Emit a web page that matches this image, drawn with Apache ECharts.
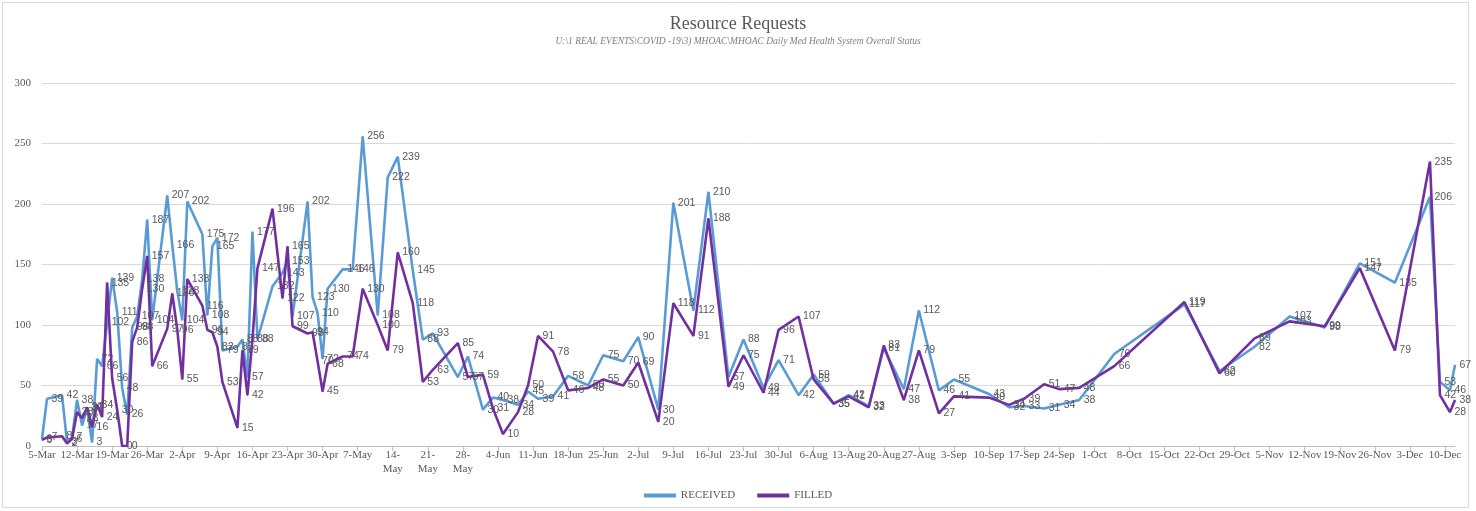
<!DOCTYPE html>
<html>
<head>
<meta charset="utf-8">
<script src="https://cdn.jsdelivr.net/npm/echarts@6/dist/echarts.min.js"></script>
<style>html,body{margin:0;padding:0;background:#fff;}#c{width:1476px;height:511px;}</style>
</head>
<body>
<div id="c"></div>
<script>
// Dates (2020, MM-DD) shared by both series
const dates = ["03-05","03-06","03-09","03-10","03-11","03-12","03-13","03-14","03-15","03-16","03-17","03-18","03-19","03-20","03-21","03-22","03-23","03-24","03-25","03-26","03-27","03-30","03-31","04-01","04-02","04-03","04-06","04-07","04-08","04-09","04-10","04-13","04-14","04-15","04-16","04-17","04-20","04-22","04-23","04-24","04-27","04-28","04-29","04-30","05-01","05-04","05-06","05-08","05-11","05-13","05-15","05-18","05-20","05-22","05-27","05-29","06-01","06-03","06-05","06-08","06-10","06-12","06-15","06-18","06-22","06-25","06-29","07-02","07-06","07-09","07-13","07-16","07-20","07-23","07-27","07-30","08-03","08-06","08-10","08-13","08-17","08-20","08-24","08-27","08-31","09-03","09-10","09-14","09-17","09-21","09-24","09-28","10-05","10-19","10-26","11-02","11-09","11-16","11-23","11-30","12-07","12-09","12-11","12-12"];
const received = [6,39,42,3,7,38,17,31,3,72,66,102,139,111,48,26,98,107,138,187,104,207,166,128,104,202,175,108,165,172,79,82,88,57,177,88,132,143,153,107,202,123,110,72,130,146,146,256,108,222,239,145,88,93,57,74,30,40,38,34,45,39,41,58,50,75,70,90,30,201,112,210,57,88,48,71,42,59,35,42,33,81,47,112,46,55,43,32,33,31,34,38,76,117,62,82,107,98,151,135,206,53,46,67];
const filled = [5,7,8,2,6,28,23,32,16,34,24,135,56,30,0,0,86,98,130,157,66,97,126,96,55,138,116,96,94,82,53,15,79,42,88,147,196,122,165,99,93,94,70,45,68,74,74,130,100,79,160,118,53,63,85,57,59,31,10,28,50,91,78,46,48,55,50,69,20,118,91,188,49,75,44,96,107,55,35,41,32,83,38,79,27,41,40,34,39,51,47,48,66,119,60,89,103,99,147,79,235,42,28,38];
const tickLabels = ["5-Mar","12-Mar","19-Mar","26-Mar","2-Apr","9-Apr","16-Apr","23-Apr","30-Apr","7-May","14-\nMay","21-\nMay","28-\nMay","4-Jun","11-Jun","18-Jun","25-Jun","2-Jul","9-Jul","16-Jul","23-Jul","30-Jul","6-Aug","13-Aug","20-Aug","27-Aug","3-Sep","10-Sep","17-Sep","24-Sep","1-Oct","8-Oct","15-Oct","22-Oct","29-Oct","5-Nov","12-Nov","19-Nov","26-Nov","3-Dec","10-Dec"];
const seriesNames = ["RECEIVED","FILLED"];
const colors = ["#5B9BD5","#7030A0"];

const base = Date.UTC(2020,2,5);
function dayOf(s){const p=s.split("-");return Math.round((Date.UTC(2020,+p[0]-1,+p[1])-base)/86400000);}
const days = dates.map(dayOf);
const tickDays = tickLabels.map((_,i)=>i*7);
function pairs(vals){return vals.map((v,i)=>[days[i],v]);}

const chart = echarts.init(document.getElementById('c'));
const labelStyle = {show:true, position:'right', distance:4, fontFamily:'Liberation Sans', fontSize:10.5, color:'#595959'};
chart.setOption({
  animation:false,
  backgroundColor:'#fff',
  graphic:[{type:'rect', shape:{x:2.5,y:2.5,width:1466,height:505}, style:{fill:'none', stroke:'#D9D9D9', lineWidth:1}}],
  title:{text:'Resource Requests', subtext:'U:\\1 REAL EVENTS\\COVID -19\\3) MHOAC\\MHOAC Daily Med Health System Overall Status',
    left:'center', top:10, itemGap:3,
    textStyle:{fontFamily:'Liberation Serif', fontSize:18, fontWeight:'normal', color:'#595959'},
    subtextStyle:{fontFamily:'Liberation Sans Narrow', fontStyle:'italic', fontSize:9.5, color:'#7F7F7F'}},
  legend:{bottom:5, left:'center', itemWidth:32, itemHeight:4, itemGap:22, icon:'rect',
    textStyle:{fontFamily:'Liberation Serif', fontSize:11, color:'#595959'}, data:seriesNames},
  grid:{left:42, right:21, top:83, bottom:65},
  xAxis:{type:'value', min:0, max:282, interval:7,
    axisLine:{show:true, lineStyle:{color:'#BFBFBF'}},
    axisTick:{show:true, length:5, lineStyle:{color:'#BFBFBF'}, customValues:tickDays},
    splitLine:{show:false},
    axisLabel:{customValues:tickDays, fontFamily:'Liberation Serif', fontSize:11, color:'#595959', margin:2, lineHeight:14,
      formatter:function(v){const i=Math.round(v/7);return (Math.abs(v-i*7)<0.01 && tickLabels[i])?tickLabels[i]:'';}}},
  yAxis:{type:'value', min:0, max:300, interval:50,
    axisLine:{show:false}, axisTick:{show:false},
    splitLine:{lineStyle:{color:'#D9D9D9'}},
    axisLabel:{fontFamily:'Liberation Serif', fontSize:11, color:'#595959', margin:11}},
  series:[
    {name:seriesNames[0], type:'line', data:pairs(received), symbol:'circle', symbolSize:1, showSymbol:true,
      lineStyle:{color:colors[0], width:2.6}, itemStyle:{color:colors[0]}, label:labelStyle, z:2},
    {name:seriesNames[1], type:'line', data:pairs(filled), symbol:'circle', symbolSize:1, showSymbol:true,
      lineStyle:{color:colors[1], width:2.6}, itemStyle:{color:colors[1]}, label:labelStyle, z:3}
  ]
});
</script>
</body>
</html>
